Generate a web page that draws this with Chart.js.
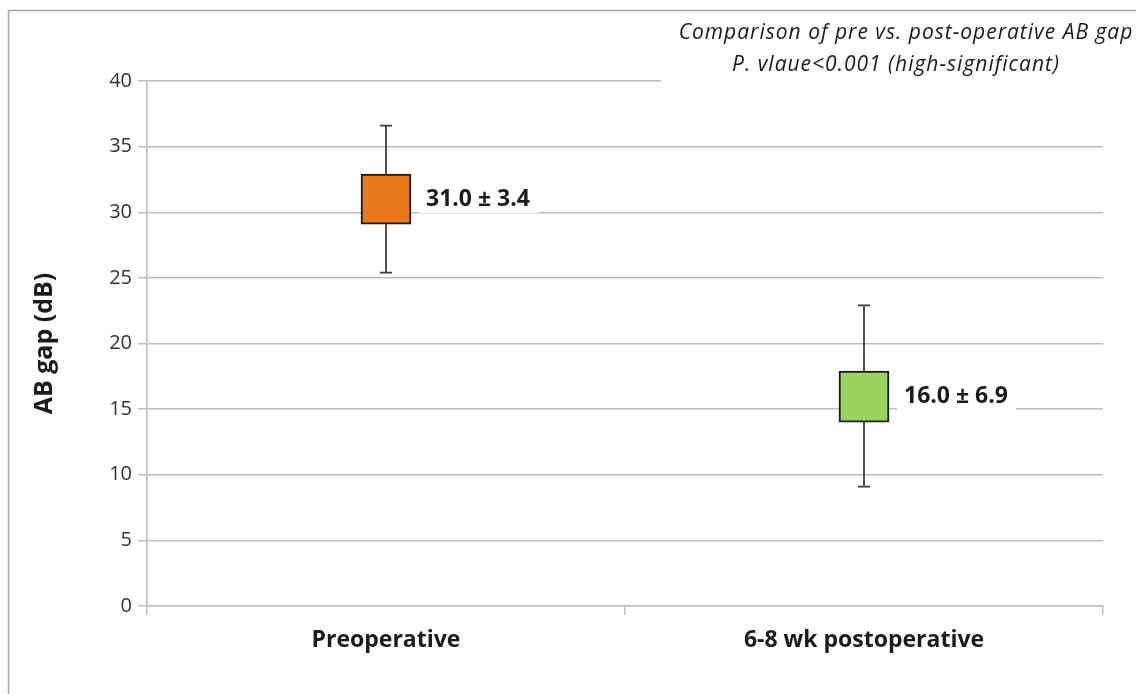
<!DOCTYPE html>
<html>
<head>
<meta charset="utf-8">
<script src="https://cdn.jsdelivr.net/npm/chart.js@4.4.1/dist/chart.umd.min.js"></script>
<style>
  html, body { margin: 0; padding: 0; background: #fff; }
  #wrap { width: 1136px; height: 694px; }
</style>
</head>
<body>
<div id="wrap"><canvas id="abChart" width="1136" height="694"></canvas></div>
<script>
// values
const categories = ['Preoperative', '6-8 wk postoperative'];
const means = [31.0, 16.0];
const sds = [3.4, 6.9];
const boxLow = [29.1, 14.0];
const boxHigh = [32.9, 17.9];
const whiskerLow = [25.4, 9.1];
const whiskerHigh = [36.6, 22.9];
const boxColors = ['#E8791A', '#9BD45C'];
const titleLines = ['Comparison of pre vs. post-operative AB gap', 'P. vlaue<0.001 (high-significant)'];

const gridColor = '#BEBEBE';
const baseFont = '"Open Sans", "Noto Sans", sans-serif';

// grey frame round the whole picture
const framePlugin = {
  id: 'frame',
  beforeDraw(chart) {
    const ctx = chart.ctx;
    ctx.save();
    ctx.fillStyle = '#fff';
    ctx.fillRect(0, 0, chart.width, chart.height);
    ctx.strokeStyle = '#A6A6A6';
    ctx.lineWidth = 1.5;
    ctx.beginPath();
    ctx.moveTo(8.5, chart.height);
    ctx.lineTo(8.5, 10.5);
    ctx.lineTo(chart.width, 10.5);
    ctx.stroke();
    ctx.restore();
  }
};

// whiskers behind the boxes
const whiskerPlugin = {
  id: 'whiskers',
  beforeDatasetsDraw(chart) {
    const ctx = chart.ctx;
    const xs = chart.scales.x, ys = chart.scales.y;
    ctx.save();
    ctx.strokeStyle = '#404040';
    ctx.lineWidth = 1.8;
    categories.forEach((c, i) => {
      const x = xs.getPixelForValue(i);
      const top = ys.getPixelForValue(whiskerHigh[i]);
      const bot = ys.getPixelForValue(whiskerLow[i]);
      ctx.beginPath();
      ctx.moveTo(x, top); ctx.lineTo(x, bot);
      ctx.moveTo(x - 6, top); ctx.lineTo(x + 6, top);
      ctx.moveTo(x - 6, bot); ctx.lineTo(x + 6, bot);
      ctx.stroke();
    });
    ctx.restore();
  }
};

// "mean ± sd" labels with a white backing
const labelPlugin = {
  id: 'meanLabels',
  afterDatasetsDraw(chart) {
    const ctx = chart.ctx;
    const ys = chart.scales.y;
    const meta = chart.getDatasetMeta(0);
    ctx.save();
    ctx.font = 'bold 23px ' + baseFont;
    ctx.textBaseline = 'middle';
    categories.forEach((c, i) => {
      const bar = meta.data[i];
      const x = bar.x + bar.width / 2 + 15;
      const y = ys.getPixelForValue(means[i]);
      const txt = means[i].toFixed(1) + ' \u00B1 ' + sds[i].toFixed(1);
      const w = ctx.measureText(txt).width;
      ctx.fillStyle = '#fff';
      ctx.fillRect(x - 7, y - 14, w + 15, 28);
      ctx.fillStyle = '#1a1a1a';
      ctx.fillText(txt, x, y);
    });
    ctx.restore();
  }
};

// italic note in the top right corner
const notePlugin = {
  id: 'note',
  afterDraw(chart) {
    const ctx = chart.ctx;
    ctx.save();
    ctx.fillStyle = '#fff';
    ctx.fillRect(661, 16, chart.width - 661, 70);
    ctx.fillStyle = '#1a1a1a';
    ctx.font = 'italic 21px ' + baseFont;
    ctx.letterSpacing = '1px';
    ctx.textAlign = 'center';
    ctx.textBaseline = 'middle';
    ctx.fillText(titleLines[0], 906, 33);
    ctx.fillText(titleLines[1], 896, 65);
    ctx.restore();
  }
};

new Chart(document.getElementById('abChart'), {
  type: 'bar',
  data: {
    labels: categories,
    datasets: [{
      data: boxLow.map((lo, i) => [lo, boxHigh[i]]),
      backgroundColor: boxColors,
      borderColor: '#1a1a1a',
      borderWidth: 2,
      borderSkipped: false,
      barThickness: 50
    }]
  },
  options: {
    responsive: false,
    animation: false,
    layout: { padding: { top: 81, right: 33, bottom: 0, left: 0 } },
    plugins: { legend: { display: false }, tooltip: { enabled: false } },
    scales: {
      x: {
        offset: true,
        grid: { offset: true, drawOnChartArea: false, color: gridColor, lineWidth: 1.5, tickLength: 9 },
        border: { color: gridColor, width: 1.5 },
        ticks: { color: '#1a1a1a', font: { family: baseFont, size: 23, weight: 'bold' }, padding: 12, maxRotation: 0 },
        afterFit(scale) { scale.height = 88; }
      },
      y: {
        min: 0, max: 40,
        ticks: { stepSize: 5, color: '#333333', font: { family: baseFont, size: 20 }, padding: 6 },
        grid: { color: gridColor, lineWidth: 1.5, tickLength: 9 },
        border: { color: gridColor, width: 1.5 },
        title: { display: true, text: 'AB gap (dB)', color: '#1a1a1a', font: { family: baseFont, size: 25, weight: 'bold' }, padding: { top: 30, bottom: 0 } },
        afterFit(scale) { scale.width = 147; }
      }
    }
  },
  plugins: [framePlugin, whiskerPlugin, labelPlugin, notePlugin]
});
</script>
</body>
</html>
